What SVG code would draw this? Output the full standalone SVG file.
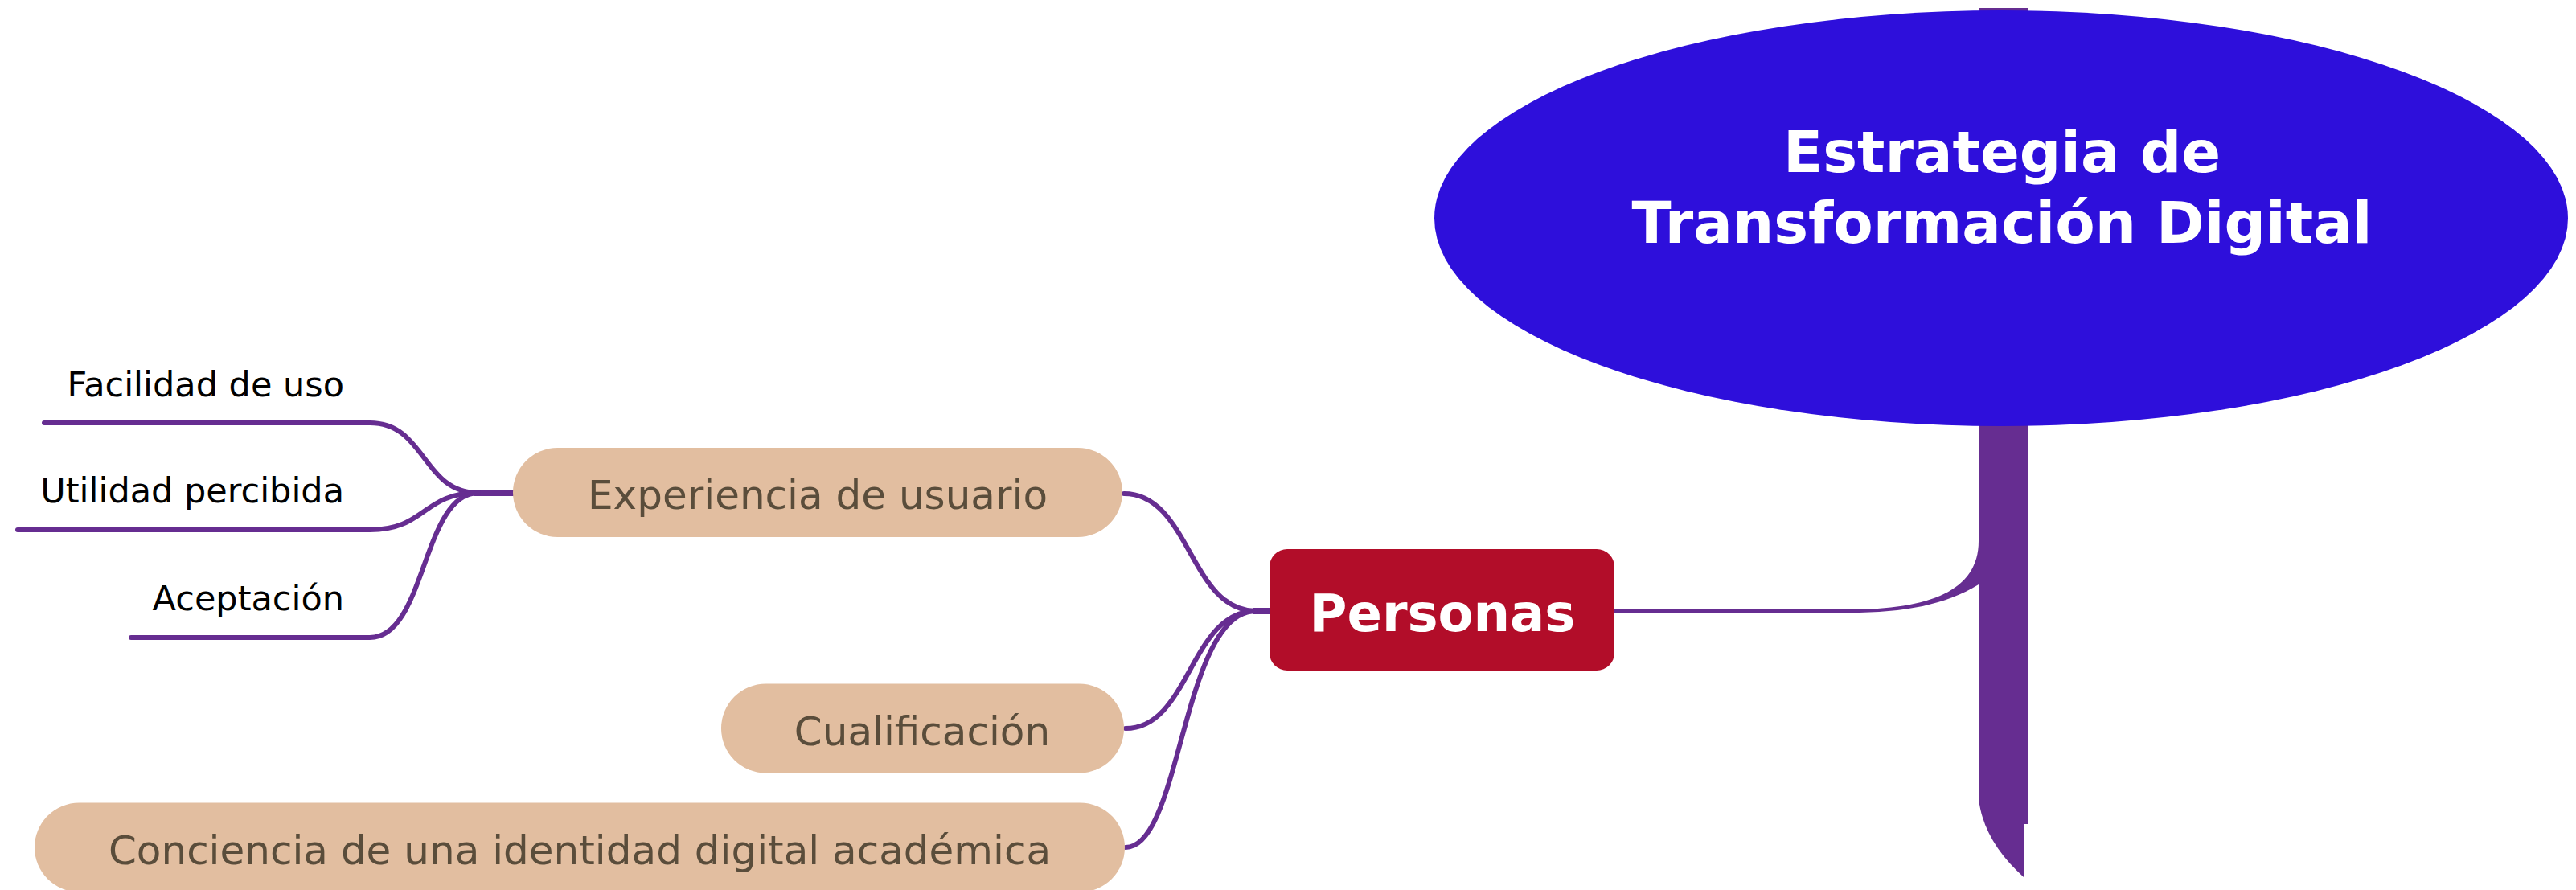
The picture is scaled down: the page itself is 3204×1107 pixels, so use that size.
<svg xmlns="http://www.w3.org/2000/svg" width="3204" height="1107" viewBox="0 0 3204 1107">
<style>
.conn{fill:none;stroke:#662D91;stroke-width:6;stroke-linecap:round}
.stub{fill:none;stroke:#662D91;stroke-width:8}
.leaf{font-family:"DejaVu Sans","Liberation Sans",sans-serif;font-size:43px;fill:#000000;text-anchor:end}
.sub{fill:#E2BEA0}
.subt{font-family:"DejaVu Sans","Liberation Sans",sans-serif;font-size:50px;fill:#5A4D3B;text-anchor:middle}
.bold{font-family:"DejaVu Sans","Liberation Sans",sans-serif;font-weight:bold;fill:#FFFFFF;text-anchor:middle}
</style>
<rect width="3204" height="1107" fill="#FFFFFF"/>
<g id="trunk">
<path d="M2461,10 L2523,10 L2523,1025 L2517,1025 L2517,1091 C2485,1062 2465,1030 2461,993 Z" fill="#662D91"/>
</g>
<g id="connectors">
<line x1="2008" y1="760" x2="2310" y2="760" stroke="#662D91" stroke-width="4"/>
<path d="M2300,758 C2400,758 2461,735 2461,673 L2461,727 C2420,752 2370,762 2300,762 Z" fill="#662D91"/>
<line class="stub" x1="1558" y1="760" x2="1582" y2="760"/>
<path class="conn" d="M1398,614 C1480,614 1480,760 1562,760"/>
<path class="conn" d="M1400,906 C1480,906 1480,760 1562,760"/>
<path class="conn" d="M1400,1054 C1470,1054 1470,760 1562,760"/>
<line class="stub" x1="590" y1="613" x2="640" y2="613"/>
<path class="conn" d="M55,526 L460,526 C530,526 525,613 595,613"/>
<path class="conn" d="M22,659 L460,659 C530,659 525,613 595,613"/>
<path class="conn" d="M163,793 L460,793 C530,793 525,613 595,613"/>
</g>
<g id="root">
<ellipse cx="2489" cy="271.5" rx="705" ry="258.5" fill="#2E0FDB"/>
<text class="bold" x="2490" y="214" font-size="72">Estrategia de</text>
<text class="bold" x="2490" y="302" font-size="72">Transformación Digital</text>
</g>
<g id="personas">
<rect x="1579" y="683" width="429" height="151" rx="22" fill="#B20D29"/>
<text class="bold" x="1794" y="785" font-size="64">Personas</text>
</g>
<g id="experiencia">
<rect class="sub" x="638" y="557" width="758" height="111" rx="55.5"/>
<text class="subt" x="1017" y="633">Experiencia de usuario</text>
</g>
<g id="cualificacion">
<rect class="sub" x="897" y="850.5" width="501" height="111" rx="55.5"/>
<text class="subt" x="1147" y="926.5">Cualificación</text>
</g>
<g id="conciencia">
<rect class="sub" x="43" y="998.5" width="1356" height="111" rx="55.5"/>
<text class="subt" x="721" y="1074.5">Conciencia de una identidad digital académica</text>
</g>
<g id="facilidad"><text class="leaf" x="428" y="493">Facilidad de uso</text></g>
<g id="utilidad"><text class="leaf" x="428" y="625">Utilidad percibida</text></g>
<g id="aceptacion"><text class="leaf" x="428" y="759">Aceptación</text></g>
</svg>
